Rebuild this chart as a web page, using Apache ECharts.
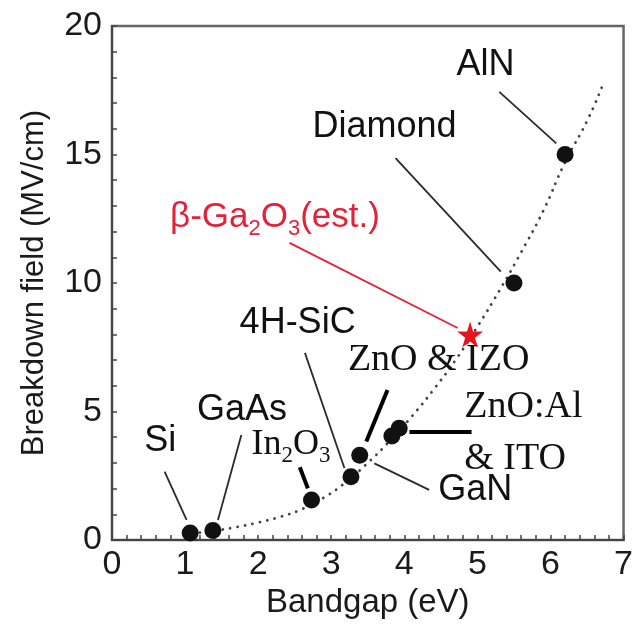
<!DOCTYPE html>
<html>
<head>
<meta charset="utf-8">
<script src="https://cdn.jsdelivr.net/npm/echarts@6/dist/echarts.min.js"></script>
<style>html,body{margin:0;padding:0;background:#fff}#c{width:636px;height:630px}</style>
</head>
<body>
<div id="c"></div>
<script>
// ---- data ----
const materials = ['Si', 'GaAs', 'In2O3', '4H-SiC', 'GaN', 'ZnO & IZO', 'ZnO:Al & ITO', 'Diamond', 'AlN'];
const bandgap   = [1.07, 1.38, 2.73, 3.27, 3.39, 3.83, 3.93, 5.5, 6.2];
const breakdown = [0.27, 0.37, 1.56, 2.46, 3.3, 4.05, 4.35, 10, 15];
const ga2o3Bandgap = [4.9];
const ga2o3Field   = [8.0];
// dotted trend curve
const trendX = [1.1, 1.4, 1.7, 2.0, 2.3, 2.6, 2.9, 3.2, 3.5, 3.8, 4.1, 4.4, 4.7, 5.0, 5.3, 5.6, 5.9, 6.2, 6.5, 6.7];
const trendY = [0.25, 0.36, 0.5, 0.68, 0.9, 1.2, 1.65, 2.25, 3.0, 3.85, 4.8, 5.85, 7.0, 8.3, 9.7, 11.2, 12.8, 14.7, 16.3, 17.6];
const xTicks = [0, 1, 2, 3, 4, 5, 6, 7];
const yTicks = [0, 5, 10, 15, 20];

// ---- annotation placement (data coordinates) ----
const SANS = "'Liberation Sans', Arial, sans-serif";
const SERIF = "'Liberation Serif', 'Times New Roman', serif";
const RED = '#e3223a';
const INK = '#111';
const labels = [
  {at: [5.11, 18.48], text: 'AlN', font: SANS, size: 36},
  {at: [3.73, 16.07], text: 'Diamond', font: SANS, size: 36},
  {at: [2.54, 8.44], text: '4H-SiC', font: SANS, size: 36},
  {at: [1.78, 5.06], text: 'GaAs', font: SANS, size: 36},
  {at: [0.66, 3.85], text: 'Si', font: SANS, size: 36},
  {at: [4.97, 1.95], text: 'GaN', font: SANS, size: 36},
  {at: [4.47, 7.02], text: 'ZnO & IZO', font: SERIF, size: 38},
  {at: [4.82, 4.18], text: 'ZnO:Al\n& ITO', font: SERIF, size: 38, left: true},
  {at: [2.45, 3.70], rich: '{a|In}{s|2}{a|O}{s|3}', font: SERIF, size: 36, sub: 23},
  {at: [2.23, 12.55], rich: '{a|β-Ga}{s|2}{a|O}{s|3}{a|(est.)}', font: SANS, size: 35, sub: 22, color: RED}
];
const leaders = [
  {from: [0.72, 2.66], to: [1.02, 0.78], w: 1.8},
  {from: [1.77, 4.09], to: [1.45, 0.78], w: 1.8},
  {from: [2.57, 2.83], to: [2.68, 2.01], w: 4},
  {from: [2.64, 7.28], to: [3.18, 2.80], w: 1.8},
  {from: [3.59, 2.98], to: [4.34, 1.95], w: 1.8},
  {from: [3.77, 5.84], to: [3.48, 3.83], w: 4},
  {from: [4.07, 4.21], to: [4.92, 4.21], w: 4},
  {from: [2.43, 11.56], to: [4.73, 8.25], w: 1.8, color: RED},
  {from: [3.88, 14.86], to: [5.32, 10.44], w: 1.8},
  {from: [5.30, 17.44], to: [6.08, 15.43], w: 1.8}
];

const STAR = 'path://M50,0 L61,35 L98,35 L68,57 L79,91 L50,70 L21,91 L32,57 L2,35 L39,35 Z';

const labelData = labels.map(l => {
  const col = l.color || INK;
  const lab = {
    show: true,
    position: l.left ? 'right' : 'inside',
    distance: 0,
    align: l.left ? 'left' : 'center',
    verticalAlign: 'middle',
    color: col,
    opacity: 1,
    fontFamily: l.font,
    fontSize: l.size,
    lineHeight: l.left ? 52 : l.size
  };
  if (l.rich) {
    lab.formatter = l.rich;
    lab.rich = {
      a: {fontFamily: l.font, fontSize: l.size, color: col, lineHeight: l.size + 10, verticalAlign: 'middle'},
      s: {fontFamily: l.font, fontSize: l.sub, color: col, lineHeight: l.sub, verticalAlign: 'bottom'}
    };
  } else {
    lab.formatter = l.text;
  }
  return {value: l.at, label: lab};
});

const chart = echarts.init(document.getElementById('c'), null, {renderer: 'canvas'});
chart.setOption({
  animation: false,
  backgroundColor: '#fff',
  grid: {left: 112, right: 12, top: 26, bottom: 90, show: true, borderColor: '#666', borderWidth: 2.5, backgroundColor: 'transparent'},
  xAxis: {
    type: 'value', min: xTicks[0], max: xTicks[xTicks.length - 1], interval: 1,
    name: 'Bandgap (eV)', nameLocation: 'middle', nameGap: 41,
    nameTextStyle: {fontFamily: SANS, fontSize: 33, color: '#1a1a1a'},
    axisLine: {show: true, lineStyle: {color: '#444', width: 2}},
    axisTick: {show: true, inside: true, length: 5, lineStyle: {color: '#444', width: 1.5}},
    minorTick: {show: true, splitNumber: 5, length: 5, lineStyle: {color: '#444', width: 1.5}},
    splitLine: {show: false},
    axisLabel: {fontFamily: SANS, fontSize: 34, color: '#1a1a1a', margin: 8}
  },
  yAxis: {
    type: 'value', min: yTicks[0], max: yTicks[yTicks.length - 1], interval: 5,
    name: 'Breakdown field (MV/cm)', nameLocation: 'middle', nameGap: 62,
    nameTextStyle: {fontFamily: SANS, fontSize: 31, color: '#1a1a1a'},
    axisLine: {show: true, lineStyle: {color: '#444', width: 2}},
    axisTick: {show: true, inside: true, length: 5, lineStyle: {color: '#444', width: 1.5}},
    minorTick: {show: true, splitNumber: 5, length: 5, lineStyle: {color: '#444', width: 1.5}},
    splitLine: {show: false},
    axisLabel: {fontFamily: SANS, fontSize: 34, color: '#1a1a1a', margin: 10}
  },
  series: [
    {
      type: 'line', smooth: true, symbol: 'none', silent: true, z: 2,
      data: trendX.map((x, i) => [x, trendY[i]]),
      lineStyle: {color: '#444', width: 2.8, type: [0.1, 7.5], cap: 'round'}
    },
    {
      type: 'lines', coordinateSystem: 'cartesian2d', silent: true, z: 3,
      data: leaders.map(d => ({coords: [d.from, d.to], lineStyle: {width: d.w, opacity: 1, color: d.color || (d.w > 3 ? '#000' : '#2a2a2a')}})),
      lineStyle: {opacity: 1}
    },
    {
      type: 'scatter', name: 'materials', z: 4, symbol: 'circle', symbolSize: 17,
      itemStyle: {color: '#111', opacity: 1},
      data: bandgap.map((x, i) => ({name: materials[i], value: [x, breakdown[i]]}))
    },
    {
      type: 'scatter', name: 'β-Ga2O3', z: 5, symbol: STAR, symbolSize: 26,
      itemStyle: {color: '#e8141e', opacity: 1},
      data: ga2o3Bandgap.map((x, i) => [x, ga2o3Field[i]])
    },
    {
      type: 'scatter', z: 6, symbolSize: 0, silent: true,
      itemStyle: {opacity: 1},
      data: labelData
    }
  ]
});
</script>
</body>
</html>
